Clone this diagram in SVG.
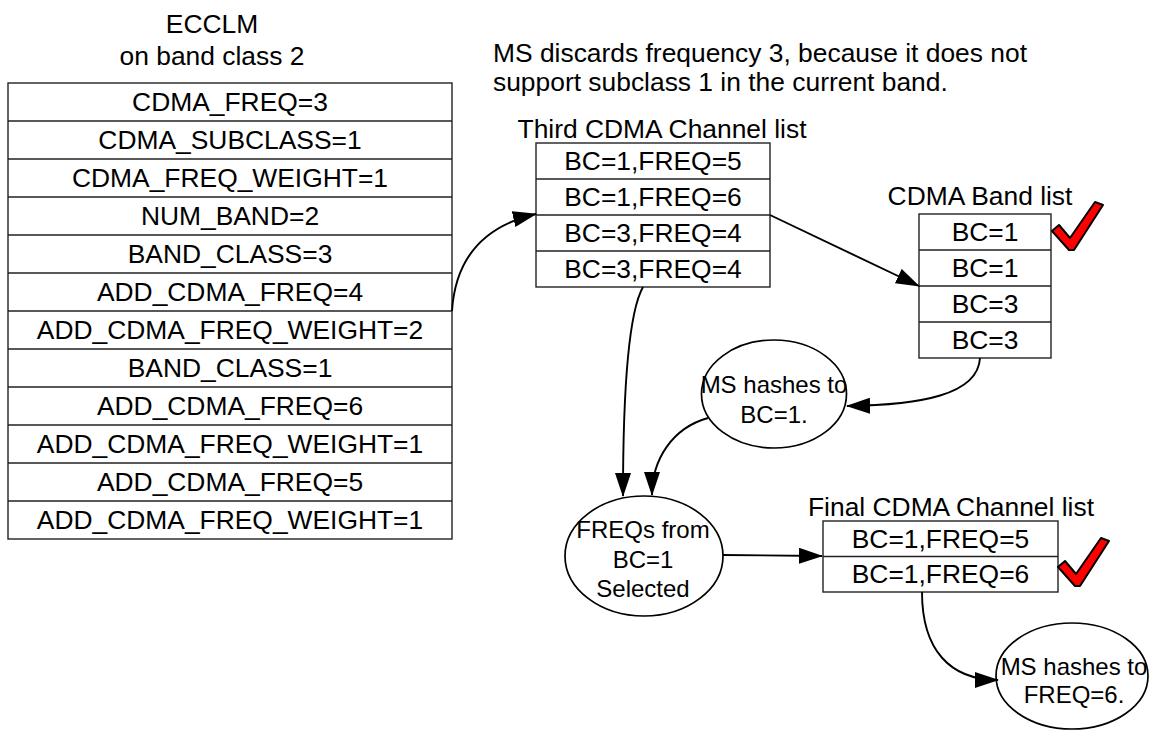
<svg xmlns="http://www.w3.org/2000/svg" width="1154" height="735" viewBox="0 0 1154 735">
<style>
text{font-family:"Liberation Sans",Arial,sans-serif;fill:#000}
.t26{font-size:26.4px}
.t24{font-size:24px}
.c{text-anchor:middle}
.box{fill:#fff;stroke:#222;stroke-width:1.4}
.sep{stroke:#222;stroke-width:1.4}
.ell{fill:#fff;stroke:#000;stroke-width:1.7}
.con{fill:none;stroke:#000;stroke-width:1.9;marker-end:url(#ah)}
.chk{fill:#f00;stroke:#000;stroke-width:2;stroke-linejoin:round}
</style>
<defs>
<marker id="ah" markerUnits="userSpaceOnUse" markerWidth="24" markerHeight="16" refX="23" refY="8" orient="auto">
<path d="M0,0 L24,8 L0,16 Z" fill="#000"/>
</marker>
<path id="check" d="M0,1 L7,-5 L18,8 L43,-28 L51,-25 L22,20 L17,20 Z"/>
</defs>
<rect width="1154" height="735" fill="#fff"/>

<g id="ecclm">
<text class="t26 c" x="212" y="33">ECCLM</text>
<text class="t26 c" x="212" y="65">on band class 2</text>
<rect class="box" x="8" y="83" width="444" height="456"/>
<path class="sep" d="M8,121H452M8,159H452M8,197H452M8,235H452M8,273H452M8,311H452M8,349H452M8,387H452M8,425H452M8,463H452M8,501H452"/>
<text class="t26 c" x="230" y="111">CDMA_FREQ=3</text>
<text class="t26 c" x="230" y="149">CDMA_SUBCLASS=1</text>
<text class="t26 c" x="230" y="187">CDMA_FREQ_WEIGHT=1</text>
<text class="t26 c" x="230" y="225">NUM_BAND=2</text>
<text class="t26 c" x="230" y="263">BAND_CLASS=3</text>
<text class="t26 c" x="230" y="301">ADD_CDMA_FREQ=4</text>
<text class="t26 c" x="230" y="339">ADD_CDMA_FREQ_WEIGHT=2</text>
<text class="t26 c" x="230" y="377">BAND_CLASS=1</text>
<text class="t26 c" x="230" y="415">ADD_CDMA_FREQ=6</text>
<text class="t26 c" x="230" y="453">ADD_CDMA_FREQ_WEIGHT=1</text>
<text class="t26 c" x="230" y="491">ADD_CDMA_FREQ=5</text>
<text class="t26 c" x="230" y="529">ADD_CDMA_FREQ_WEIGHT=1</text>
</g>

<g id="note">
<text class="t26" x="493" y="62">MS discards frequency 3, because it does not</text>
<text class="t26" x="493" y="91">support subclass 1 in the current band.</text>
</g>

<g id="third-list">
<text class="t26 c" x="662" y="138">Third CDMA Channel list</text>
<rect class="box" x="536" y="143" width="234" height="144"/>
<path class="sep" d="M536,179H770M536,215H770M536,251H770"/>
<text class="t26 c" x="653" y="170">BC=1,FREQ=5</text>
<text class="t26 c" x="653" y="206">BC=1,FREQ=6</text>
<text class="t26 c" x="653" y="242">BC=3,FREQ=4</text>
<text class="t26 c" x="653" y="278">BC=3,FREQ=4</text>
</g>

<g id="band-list">
<text class="t26 c" x="980" y="205">CDMA Band list</text>
<rect class="box" x="919" y="214" width="132" height="144"/>
<path class="sep" d="M919,250H1051M919,286H1051M919,322H1051"/>
<text class="t26 c" x="985" y="241">BC=1</text>
<text class="t26 c" x="985" y="277">BC=1</text>
<text class="t26 c" x="985" y="313">BC=3</text>
<text class="t26 c" x="985" y="349">BC=3</text>
<use href="#check" class="chk" x="1052" y="230"/>
</g>

<g id="hash-bc">
<ellipse class="ell" cx="774" cy="394" rx="72.5" ry="54"/>
<text class="t24 c" x="774" y="393">MS hashes to</text>
<text class="t24 c" x="774" y="423">BC=1.</text>
</g>

<g id="freqs-selected">
<ellipse class="ell" cx="644" cy="556" rx="79" ry="60"/>
<text class="t24 c" x="643" y="538">FREQs from</text>
<text class="t24 c" x="643" y="568">BC=1</text>
<text class="t24 c" x="643" y="597">Selected</text>
</g>

<g id="final-list">
<text class="t26 c" x="951" y="516">Final CDMA Channel list</text>
<rect class="box" x="823" y="521" width="235" height="71"/>
<path class="sep" d="M823,556.5H1058"/>
<text class="t26 c" x="940.5" y="548">BC=1,FREQ=5</text>
<text class="t26 c" x="940.5" y="583">BC=1,FREQ=6</text>
<use href="#check" class="chk" x="1058" y="566"/>
</g>

<g id="hash-freq">
<ellipse class="ell" cx="1072" cy="676" rx="76" ry="53"/>
<text class="t24 c" x="1074" y="675">MS hashes to</text>
<text class="t24 c" x="1074" y="703">FREQ=6.</text>
</g>

<g id="connectors">
<path class="con" d="M452,311 C456,250 492,224 536,214"/>
<path class="con" d="M770,215 L919,286"/>
<path class="con" d="M980,358 C978,395 920,405 847,406"/>
<path class="con" d="M643,287 C630,310 623,380 623,496"/>
<path class="con" d="M708,418 C672,428 652,460 652,495"/>
<path class="con" d="M723,555 L822,556"/>
<path class="con" d="M922,592 C922,650 950,680 998,680"/>
</g>
</svg>
